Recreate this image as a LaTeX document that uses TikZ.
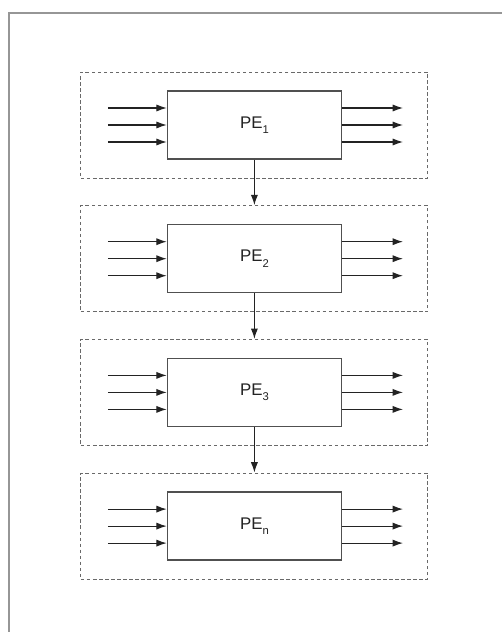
\documentclass[tikz,border=0pt]{standalone}
\usepackage{fontspec}
\setmainfont{Liberation Sans}
\usetikzlibrary{arrows.meta, positioning}
\definecolor{myframe}{RGB}{150,150,150}
\definecolor{mydark}{RGB}{35,35,35}
\definecolor{mybox}{RGB}{80,80,80}
\definecolor{mydash}{RGB}{105,105,105}
\newcommand{\pesub}[1]{\raisebox{-0.6ex}{\footnotesize #1}}
\tikzset{
  pebox/.style={rectangle, draw=mybox, fill=white, text=mydark,
    minimum width=4.35cm, minimum height=1.7cm,
    font=\large, line width=0.9pt},
  stagebox/.style={rectangle, draw=mydash, dash pattern=on 2.5pt off 1.8pt,
    minimum width=8.675cm, minimum height=2.65cm, line width=0.7pt},
  arrow/.style={-{Latex[length=2.6mm,width=1.8mm]}, line width=0.85pt, color=mydark}
}

\begin{document}
\begin{tikzpicture}
  \useasboundingbox (0,0) rectangle (12.55,-15.8);

  % Outer frame (cut off at the right and bottom)
  \draw[myframe, line width=1.4pt] (0.225,-15.8) -- (0.225,-0.325) -- (12.55,-0.325);

  % Stages PE_1 ... PE_n
  \foreach \i/\sub in {1/1, 2/2, 3/3, 4/n} {
    \node[stagebox] (stage\i) at (6.36,{-3.125-3.3425*(\i-1)}) {};
    \node[pebox] (pe\i) at (stage\i.center) {PE\pesub{\sub}};
    % three inputs and three outputs
    \foreach \j/\dy in {1/0.425, 2/0, 3/-0.425} {
      \coordinate (in\i-\j) at ([xshift=-1.475cm, yshift=\dy cm]pe\i.west);
      \coordinate (out\i-\j) at ([xshift=1.525cm, yshift=\dy cm]pe\i.east);
      \draw[arrow] (in\i-\j) -- (in\i-\j -| pe\i.west);
      \draw[arrow] (out\i-\j -| pe\i.east) -- (out\i-\j);
    }
  }

  % Chain between the stages
  \foreach \i [count=\j from 2] in {1,2,3} {
    \draw[arrow] (pe\i.south) -- (stage\j.north);
  }
\end{tikzpicture}
\end{document}
